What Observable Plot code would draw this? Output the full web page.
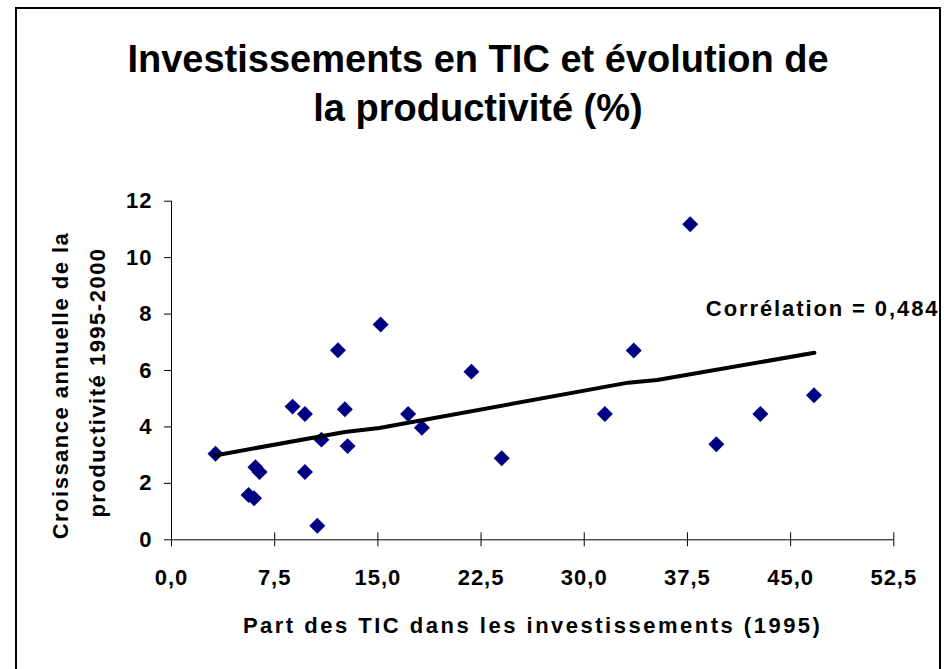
<!DOCTYPE html>
<html>
<head>
<meta charset="utf-8">
<script src="https://cdn.jsdelivr.net/npm/d3@7"></script>
<script src="https://cdn.jsdelivr.net/npm/@observablehq/plot@0.6"></script>
<style>
  html, body { margin: 0; padding: 0; background: #fff; }
  #wrap { position: relative; width: 946px; height: 669px; overflow: hidden; background: #fff; font-family: "Liberation Sans", Arial, sans-serif; }
  #title { position: absolute; left: 16px; top: 0; width: 924px; height: 150px; box-sizing: border-box; padding-top: 35px; text-align: center; font-weight: bold; font-size: 38px; line-height: 49px; color: #000; }
  #chart { position: absolute; left: 0; top: 150px; }
  #frame { position: absolute; left: 15px; top: 7px; width: 922px; height: 720px; border: 2px solid #000; pointer-events: none; }
</style>
</head>
<body>
<div id="wrap">
  <div id="title">Investissements en TIC et évolution de<br>la productivité (%)</div>
  <div id="chart"></div>
  <div id="frame"></div>
</div>
<script>
// Part des TIC dans les investissements (1995), %
const ticShare = [3.2, 6.1, 6.4, 5.6, 6.0, 8.8, 9.7, 9.7, 10.6, 10.9, 12.1, 12.6, 12.8, 15.2, 17.2, 18.2, 21.8, 24.0, 31.5, 33.6, 37.7, 39.6, 42.8, 46.7];
// Croissance annuelle de la productivité 1995-2000, %
const productivity = [3.05, 2.57, 2.40, 1.59, 1.47, 4.72, 4.46, 2.40, 0.50, 3.55, 6.72, 4.63, 3.32, 7.63, 4.46, 3.97, 5.96, 2.89, 4.46, 6.71, 11.18, 3.39, 4.46, 5.12];
// Courbe de tendance
const trendX = [3.16, 12.6, 15.1, 33.2, 35.3, 46.73];
const trendY = [2.99, 3.82, 3.96, 5.57, 5.66, 6.63];

const xTicks = [0, 7.5, 15, 22.5, 30, 37.5, 45, 52.5];
const xTickLabels = ["0,0", "7,5", "15,0", "22,5", "30,0", "37,5", "45,0", "52,5"];
const yTicks = [0, 2, 4, 6, 8, 10, 12];
const yTickLabels = ["0", "2", "4", "6", "8", "10", "12"];

const yTitleLines = ["Croissance annuelle de la", "productivité 1995-2000"];
const xTitle = "Part des TIC dans les investissements (1995)";
const corrLabel = "Corrélation = 0,484";

const points = ticShare.map((x, i) => ({x, y: productivity[i]}));
const trend = trendX.map((x, i) => ({x, y: trendY[i]}));

const chart = Plot.plot({
  width: 946,
  height: 519,
  marginLeft: 171,
  marginRight: 52.7,
  marginTop: 50.7,
  marginBottom: 129.7,
  style: { fontFamily: "'Liberation Sans', Arial, sans-serif", fontSize: "22px", fontWeight: "bold", color: "#000", background: "transparent", overflow: "visible" },
  x: { domain: [0, 52.5] },
  y: { domain: [0, 12] },
  marks: [
    Plot.ruleY([0], { stroke: "#000", strokeWidth: 1 }),
    Plot.ruleX([0], { stroke: "#000", strokeWidth: 1 }),
    Plot.ruleX(xTicks, { x: d => d, y1: 0, y2: 0, insetTop: -7, insetBottom: -7, stroke: "#000", strokeWidth: 1 }),
    Plot.axisX({ ticks: xTicks, tickSize: 0, tickPadding: 30, tickFormat: d => xTickLabels[xTicks.indexOf(d)], fontSize: 22, fontWeight: "bold", label: null }),
    Plot.axisY({ ticks: yTicks, tickSize: 7, tickPadding: 12, tickFormat: d => yTickLabels[yTicks.indexOf(d)], fontSize: 22, fontWeight: "bold", label: null, stroke: "#000" }),
    Plot.dot(points, { x: "x", y: "y", symbol: "diamond2", r: 7.2, fill: "#000080", stroke: "none" }),
    Plot.line(trend, { x: "x", y: "y", stroke: "#000", strokeWidth: 4, strokeLinecap: "round", strokeLinejoin: "round" }),
    Plot.text(trend, Plot.selectLast({ x: "x", y: "y", text: () => corrLabel, textAnchor: "end", dx: 125, dy: -43.3, fontSize: 22, fontWeight: "bold", fill: "#000" })),
    Plot.text([xTitle], { text: d => d, frameAnchor: "bottom", textAnchor: "middle", dy: 93, fontSize: 22, fontWeight: "bold", fill: "#000" }),
    Plot.text([yTitleLines[0]], { text: d => d, frameAnchor: "left", textAnchor: "middle", rotate: -90, dx: -111, dy: 15, fontSize: 22, fontWeight: "bold", fill: "#000" }),
    Plot.text([yTitleLines[1]], { text: d => d, frameAnchor: "left", textAnchor: "middle", rotate: -90, dx: -74, dy: 12, fontSize: 22, fontWeight: "bold", fill: "#000" })
  ]
});
document.getElementById("chart").appendChild(chart);

// letter spacing to match the reference typesetting
const spacing = new Map([
  [corrLabel, "1.9px"],
  [xTitle, "2.5px"],
  [yTitleLines[0], "1.5px"],
  [yTitleLines[1], "1.5px"]
]);
d3.select(chart).selectAll("text").each(function() {
  const s = this.textContent;
  if (spacing.has(s)) this.style.letterSpacing = spacing.get(s);
  else if (xTickLabels.includes(s) || yTickLabels.includes(s)) this.style.letterSpacing = "1px";
});
</script>
</body>
</html>
